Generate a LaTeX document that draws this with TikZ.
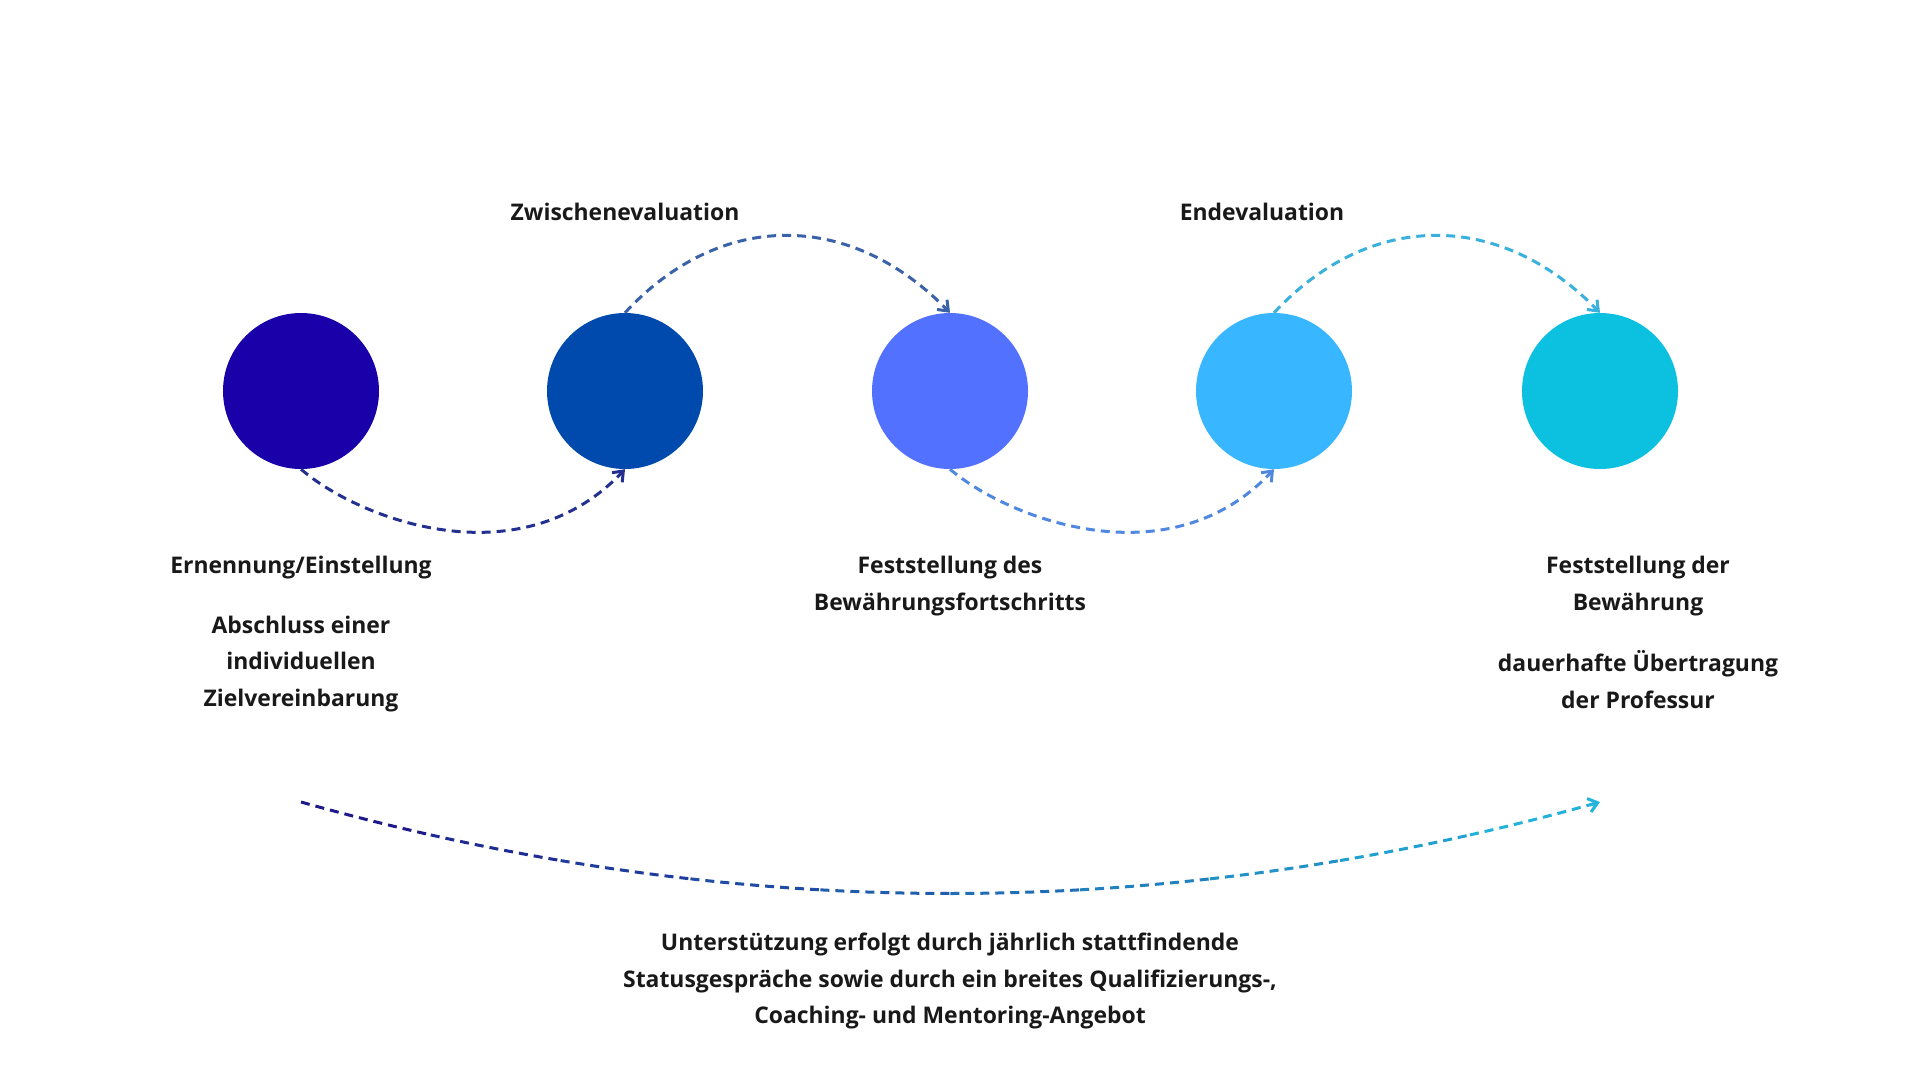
\documentclass[tikz,border=0pt]{standalone}
\usepackage{fontspec}
\setmainfont{Open Sans}
\usetikzlibrary{arrows.meta}
\definecolor{c1}{HTML}{1A00A8}
\definecolor{c2}{HTML}{004AAD}
\definecolor{c3}{HTML}{5271FF}
\definecolor{c4}{HTML}{38B6FF}
\definecolor{c5}{HTML}{0CC0DF}
\definecolor{a1}{HTML}{23308F}
\definecolor{a2}{HTML}{3A62A8}
\definecolor{a3}{HTML}{5088E0}
\definecolor{a4}{HTML}{3AB0DC}
\definecolor{gA}{HTML}{1E1A8A}
\definecolor{gB}{HTML}{22B4DA}
\begin{document}
\begin{tikzpicture}[x=1bp,y=-1bp,
  dot/.style={circle,minimum size=156bp,inner sep=0pt},
  lab/.style={font=\bfseries\fontsize{23}{37}\selectfont,align=center,text=black!90},
  arr/.style={line width=3bp,dash pattern=on 9bp off 6bp,-{Straight Barb[length=9bp,width=14bp,line width=3bp]}}]
\useasboundingbox[fill=white] (0,0) rectangle (1920,1080);
\node[dot,fill=c1] (n1) at (301,391) {};
\node[dot,fill=c2] (n2) at (625,391) {};
\node[dot,fill=c3] (n3) at (950,391) {};
\node[dot,fill=c4] (n4) at (1274,391) {};
\node[dot,fill=c5] (n5) at (1600,391) {};
\draw[arr,a1] (n1.south) .. controls (360,520) and (520,580) .. (n2.south);
\draw[arr,a2] (n2.north) .. controls (720,210) and (850,210) .. (n3.north);
\draw[arr,a3] (n3.south) .. controls (1010,520) and (1170,580) .. (n4.south);
\draw[arr,a4] (n4.north) .. controls (1370,210) and (1500,210) .. (n5.north);
\node[lab] (z) at (625,212) {Zwischenevaluation};
\node[lab] (e) at (1262,212) {Endevaluation};
\node[lab] (t1) at (301,568) {Ernennung/Einstellung};
\node[lab] (t2) at (301,664) {Abschluss einer\\individuellen\\Zielvereinbarung};
\node[lab] (t3) at (950,586) {Feststellung des\\Bewährungsfortschritts};
\node[lab] (t4) at (1638,586) {Feststellung der\\Bewährung};
\node[lab] (t5) at (1638,680) {dauerhafte Übertragung\\der Professur};
\node[lab] (t6) at (950,981) {Unterstützung erfolgt durch jährlich stattfindende\\Statusgespräche sowie durch ein breites Qualifizierungs-,\\Coaching- und Mentoring-Angebot};
\coordinate (s) at (301,802);
\coordinate (f) at (1600,802);
\foreach \i in {0,...,9}{
  \pgfmathsetmacro{\pc}{100-\i*11}
  \pgfmathsetmacro{\ta}{\i/10}
  \pgfmathsetmacro{\tb}{(\i+1)/10}
  \draw[line width=3bp,dash pattern=on 9bp off 6bp,gA!\pc!gB] plot[domain=\ta:\tb,samples=12,variable=\t]
    ({(1-\t)^2*301+2*\t*(1-\t)*950+\t^2*1600},{(1-\t)^2*802+2*\t*(1-\t)*985+\t^2*802});
}
\draw[gB,line width=3bp,-{Straight Barb[length=9bp,width=14bp,line width=3bp]}] (1590,805) -- (f);
\end{tikzpicture}
\end{document}
